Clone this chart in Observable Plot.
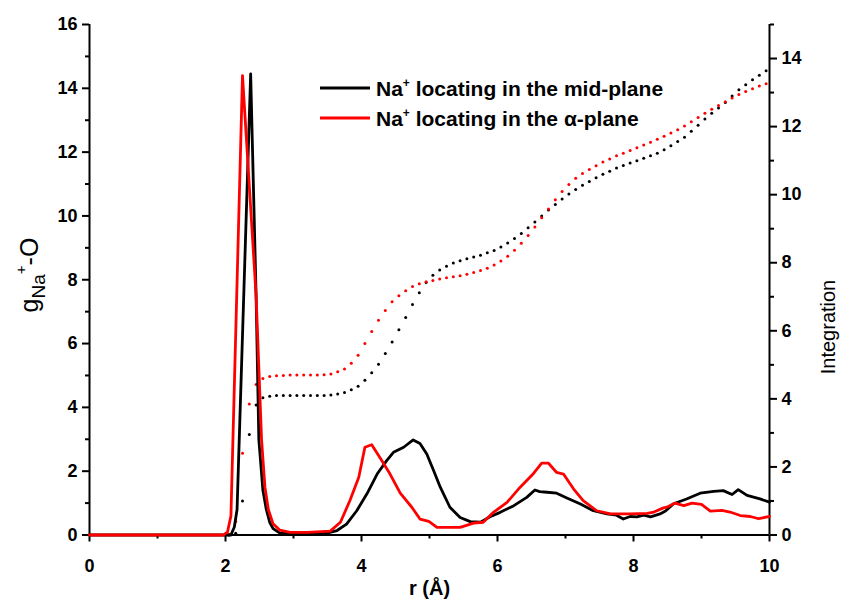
<!DOCTYPE html>
<html>
<head>
<meta charset="utf-8">
<script src="https://cdn.jsdelivr.net/npm/d3@7"></script>
<script src="https://cdn.jsdelivr.net/npm/@observablehq/plot@0.6"></script>
<style>
  html, body { margin: 0; padding: 0; background: #fff; }
</style>
</head>
<body>
<div id="chart"></div>
<script>
// Radial distribution g(r) of Na+–O for the two Na+ positions
const rMid = [0, 2.08, 2.13, 2.17, 2.37, 2.45, 2.49, 2.55, 2.60, 2.65, 2.70, 2.80, 3.00, 3.20, 3.49, 3.64, 3.78, 3.93, 4.08, 4.23, 4.37, 4.47, 4.62, 4.76, 4.86, 4.96, 5.06, 5.16, 5.30, 5.45, 5.60, 5.75, 5.89, 6.04, 6.24, 6.43, 6.55, 6.62, 6.73, 6.87, 7.02, 7.22, 7.41, 7.61, 7.75, 7.85, 7.95, 8.05, 8.15, 8.25, 8.39, 8.47, 8.59, 8.78, 8.98, 9.18, 9.32, 9.45, 9.54, 9.67, 9.86, 10.0];
const gMid = [0, 0, 0.25, 0.8, 14.45, 7.5, 3.0, 1.4, 0.8, 0.4, 0.2, 0.06, 0.05, 0.05, 0.06, 0.14, 0.34, 0.76, 1.29, 1.91, 2.33, 2.59, 2.75, 2.98, 2.87, 2.54, 2.02, 1.49, 0.87, 0.55, 0.42, 0.40, 0.57, 0.71, 0.92, 1.18, 1.41, 1.36, 1.34, 1.31, 1.16, 0.97, 0.76, 0.66, 0.62, 0.50, 0.58, 0.57, 0.62, 0.57, 0.66, 0.75, 0.98, 1.13, 1.31, 1.37, 1.39, 1.27, 1.42, 1.24, 1.13, 1.03];

const rAlpha = [0, 1.97, 2.03, 2.08, 2.25, 2.45, 2.53, 2.58, 2.63, 2.70, 2.80, 2.95, 3.20, 3.54, 3.69, 3.83, 3.96, 4.05, 4.15, 4.27, 4.42, 4.57, 4.74, 4.86, 4.99, 5.11, 5.45, 5.65, 5.79, 5.94, 6.14, 6.33, 6.53, 6.65, 6.75, 6.87, 6.97, 7.12, 7.26, 7.46, 7.66, 7.95, 8.20, 8.30, 8.44, 8.49, 8.61, 8.74, 8.86, 9.00, 9.13, 9.30, 9.42, 9.57, 9.72, 9.84, 10.0];
const gAlpha = [0, 0, 0.1, 0.6, 14.4, 7.5, 3.0, 1.5, 0.8, 0.35, 0.15, 0.08, 0.08, 0.12, 0.40, 1.08, 1.81, 2.75, 2.83, 2.43, 1.91, 1.31, 0.87, 0.50, 0.43, 0.24, 0.24, 0.37, 0.40, 0.71, 1.02, 1.49, 1.93, 2.25, 2.25, 1.96, 1.91, 1.44, 1.08, 0.76, 0.66, 0.66, 0.68, 0.72, 0.85, 0.87, 1.00, 0.92, 1.00, 0.96, 0.75, 0.77, 0.72, 0.61, 0.58, 0.51, 0.58];

// Running coordination number (integration), sampled every 0.1 Å
const rInt = [2.05, 2.15, 2.25, 2.35, 2.45, 2.55, 2.65, 2.75, 2.85, 2.95,
  3.05, 3.15, 3.25, 3.35, 3.45, 3.55, 3.65, 3.75, 3.85, 3.95,
  4.05, 4.15, 4.25, 4.35, 4.45, 4.55, 4.65, 4.75, 4.85, 4.95,
  5.05, 5.15, 5.25, 5.35, 5.45, 5.55, 5.65, 5.75, 5.85, 5.95,
  6.05, 6.15, 6.25, 6.35, 6.45, 6.55, 6.65, 6.75, 6.85, 6.95,
  7.05, 7.15, 7.25, 7.35, 7.45, 7.55, 7.65, 7.75, 7.85, 7.95,
  8.05, 8.15, 8.25, 8.35, 8.45, 8.55, 8.65, 8.75, 8.85, 8.95,
  9.05, 9.15, 9.25, 9.35, 9.45, 9.55, 9.65, 9.75, 9.85, 9.95];
const intMid = [0.0, 0.05, 1.0, 2.95, 3.82, 4.03, 4.08, 4.10, 4.10, 4.10,
  4.10, 4.10, 4.10, 4.10, 4.10, 4.11, 4.14, 4.19, 4.27, 4.37,
  4.55, 4.77, 5.02, 5.33, 5.67, 6.03, 6.39, 6.77, 7.12, 7.42,
  7.63, 7.79, 7.90, 7.99, 8.06, 8.12, 8.17, 8.22, 8.29, 8.36,
  8.46, 8.58, 8.71, 8.86, 9.03, 9.20, 9.37, 9.55, 9.71, 9.87,
  10.02, 10.15, 10.28, 10.39, 10.50, 10.60, 10.69, 10.78, 10.86, 10.93,
  11.00, 11.07, 11.14, 11.22, 11.32, 11.44, 11.56, 11.69, 11.86, 12.04,
  12.22, 12.39, 12.55, 12.71, 12.90, 13.08, 13.23, 13.38, 13.51, 13.64];
const intAlpha = [0.02, 0.40, 2.40, 3.85, 4.42, 4.60, 4.66, 4.68, 4.69, 4.70,
  4.70, 4.70, 4.70, 4.70, 4.71, 4.73, 4.80, 4.88, 5.05, 5.28,
  5.63, 5.98, 6.31, 6.60, 6.85, 7.03, 7.18, 7.30, 7.38, 7.44,
  7.48, 7.52, 7.56, 7.59, 7.62, 7.66, 7.71, 7.77, 7.84, 7.93,
  8.05, 8.19, 8.37, 8.57, 8.80, 9.05, 9.32, 9.58, 9.85, 10.09,
  10.30, 10.48, 10.62, 10.74, 10.85, 10.96, 11.05, 11.14, 11.22, 11.30,
  11.38, 11.46, 11.54, 11.63, 11.72, 11.81, 11.91, 12.02, 12.14, 12.27,
  12.39, 12.51, 12.62, 12.73, 12.84, 12.94, 13.03, 13.11, 13.19, 13.26];

// Axis ticks
const xMajor = [0, 2, 4, 6, 8, 10];
const xMinor = [1, 3, 5, 7, 9];
const gMajor = [0, 2, 4, 6, 8, 10, 12, 14, 16];
const gMinor = [1, 3, 5, 7, 9, 11, 13, 15];
const intMajor = [0, 2, 4, 6, 8, 10, 12, 14];
const intMinor = [1, 3, 5, 7, 9, 11, 13, 15];

const seriesColors = ["black", "red"];
const legendTail = [" locating in the mid-plane", " locating in the \u03b1-plane"];

// The integration axis (0–15) shares the plot height with g(r) (0–16)
const G_MAX = 16, INT_MAX = 15;
const K = G_MAX / INT_MAX;

const toRows = (rs, vs) => rs.map((r, i) => ({r, v: vs[i]}));
const midLine = toRows(rMid, gMid);
const alphaLine = toRows(rAlpha, gAlpha);
const midInt = toRows(rInt, intMid).map(d => ({r: d.r, v: d.v * K}));
const alphaInt = toRows(rInt, intAlpha).map(d => ({r: d.r, v: d.v * K}));

const FONT = "'Liberation Sans', Arial, Helvetica, sans-serif";
const axisText = {fontSize: 18, fontWeight: "bold", label: null, strokeWidth: 2};

const svgEl = Plot.plot({
  width: 844,
  height: 601,
  marginLeft: 89,
  marginRight: 75,
  marginTop: 24,
  marginBottom: 66.5,
  style: {fontFamily: FONT, fontSize: "18px", color: "black", background: "white", overflow: "visible"},
  x: {domain: [0, 10]},
  y: {domain: [0, G_MAX]},
  marks: [
    Plot.axisX({...axisText, ticks: xMajor, tickSize: 7, tickPadding: 17}),
    Plot.axisX({...axisText, ticks: xMinor, tickSize: 4, tickFormat: () => ""}),
    Plot.axisY({...axisText, ticks: gMajor, tickSize: 7, tickPadding: 5}),
    Plot.axisY({...axisText, ticks: gMinor, tickSize: 4, tickFormat: () => ""}),
    Plot.axisY({...axisText, anchor: "right", ticks: intMajor.map(v => v * K), tickSize: 7, tickPadding: 5,
      tickFormat: d => String(Math.round(d / K))}),
    Plot.axisY({...axisText, anchor: "right", ticks: intMinor.map(v => v * K), tickSize: 4, tickFormat: () => ""}),
    Plot.ruleY([0], {strokeWidth: 2}),
    Plot.ruleX([0, 10], {strokeWidth: 2}),
    Plot.dot(midInt, {x: "r", y: "v", r: 1.5, fill: seriesColors[0], stroke: null}),
    Plot.dot(alphaInt, {x: "r", y: "v", r: 1.5, fill: seriesColors[1], stroke: null}),
    Plot.line(midLine, {x: "r", y: "v", stroke: seriesColors[0], strokeWidth: 2.8, curve: "linear"}),
    Plot.line(alphaLine, {x: "r", y: "v", stroke: seriesColors[1], strokeWidth: 2.8, curve: "linear"}),
    Plot.text(["r (\u00c5)"], {frameAnchor: "bottom", dy: 60, fontSize: 20, fontWeight: "bold"}),
    Plot.text(["Integration"], {frameAnchor: "right", dx: 59, rotate: -90, fontSize: 20, fontWeight: "normal"})
  ]
});

const svg = d3.select(svgEl);

// Left axis title: g with subscript Na+ followed by -O
const yTitle = svg.append("text")
  .attr("transform", "translate(38,275) rotate(-90)")
  .attr("text-anchor", "middle")
  .attr("font-family", FONT)
  .attr("font-weight", "normal")
  .attr("font-size", 25)
  .attr("fill", "black");
yTitle.append("tspan").text("g");
yTitle.append("tspan").attr("font-size", 19).attr("dy", 7).text("Na");
yTitle.append("tspan").attr("font-size", 15).attr("dy", -19).text("+");
yTitle.append("tspan").attr("dy", 12).text("-O");

// Legend
const legend = svg.append("g")
  .attr("font-family", FONT)
  .attr("font-weight", "bold")
  .attr("font-size", 21)
  .attr("text-anchor", "start")
  .attr("fill", "black");
seriesColors.forEach((color, i) => {
  const y = 88 + i * 30;
  legend.append("line")
    .attr("x1", 320).attr("x2", 370).attr("y1", y).attr("y2", y)
    .attr("stroke", color).attr("stroke-width", 2.8);
  const t = legend.append("text").attr("x", 376).attr("y", y + 7.5).attr("text-anchor", "start");
  t.append("tspan").text("Na");
  t.append("tspan").attr("font-size", 12).attr("dy", -9).text("+");
  t.append("tspan").attr("dy", 9).text(legendTail[i]);
});

document.getElementById("chart").appendChild(svgEl);
</script>
</body>
</html>
